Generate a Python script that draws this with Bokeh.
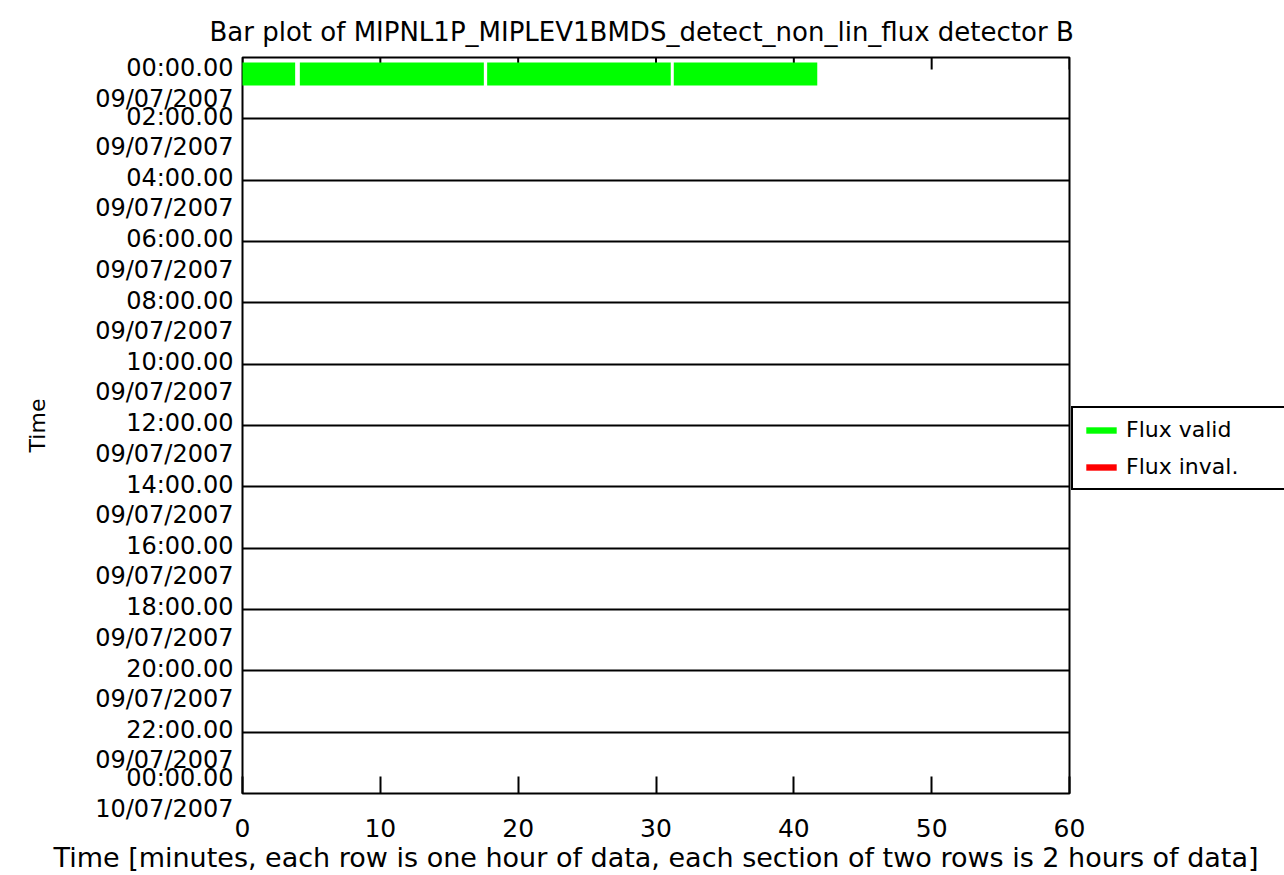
from bokeh.plotting import figure
from bokeh.models import (Range1d, FixedTicker, Legend, LegendItem, ColumnDataSource)
from bokeh.embed import file_html
from bokeh.resources import INLINE

# ---------------- data ----------------
title_text = "Bar plot of MIPNL1P_MIPLEV1BMDS_detect_non_lin_flux detector B"
x_label = "Time [minutes, each row is one hour of data, each section of two rows is 2 hours of data]"
y_label = "Time"

# valid flux segments: hour row, start minute, end minute
valid_row = [0, 0, 0, 0]
valid_start = [0.0, 4.16, 17.75, 31.29]
valid_end = [3.82, 17.51, 31.07, 41.70]

# invalid flux segments (none in this period)
inval_row = []
inval_start = []
inval_end = []

y_tick_times = ["00:00.00", "02:00.00", "04:00.00", "06:00.00", "08:00.00", "10:00.00",
                "12:00.00", "14:00.00", "16:00.00", "18:00.00", "20:00.00", "22:00.00",
                "00:00.00"]
y_tick_dates = ["09/07/2007"] * 12 + ["10/07/2007"]
x_ticks = [0, 10, 20, 30, 40, 50, 60]

FONT = "DejaVu Sans"
HOURS = 24
PX_PER_HOUR = 736 / HOURS

# ---------------- figure ----------------
p = figure(output_backend="svg", toolbar_location=None,
           frame_width=827, frame_height=736,
           min_border_left=242, min_border_top=57, min_border_bottom=82,
           min_border_right=213,
           x_range=Range1d(0, 60), y_range=Range1d(HOURS, 0))

p.title.text = title_text
p.title.text_font = FONT
p.title.text_font_size = "26px"
p.title.text_font_style = "normal"
p.title.text_color = "black"
p.title.align = "left"
p.title.offset = -33
p.title.standoff = 22

p.outline_line_color = "black"
p.outline_line_width = 2
p.outline_line_alpha = 1
p.background_fill_color = "white"
p.border_fill_color = "white"

# grid: horizontal section lines every 2 hours
p.xgrid.visible = False
p.ygrid.ticker = FixedTicker(ticks=list(range(0, HOURS + 1, 2)))
p.ygrid.grid_line_color = "black"
p.ygrid.grid_line_width = 2
p.ygrid.grid_line_alpha = 1

# x axis (bottom)
xa = p.xaxis[0]
xa.ticker = FixedTicker(ticks=x_ticks)
xa.major_tick_in = 17
xa.major_tick_out = 0
xa.minor_tick_line_color = None
xa.axis_line_color = None
xa.major_tick_line_color = "black"
xa.major_tick_line_width = 2
xa.major_label_text_font = FONT
xa.major_label_text_font_size = "25px"
xa.major_label_text_color = "black"
xa.major_label_standoff = 25
xa.axis_label = x_label
xa.axis_label_text_font = FONT
xa.axis_label_text_font_size = "27px"
xa.axis_label_text_font_style = "normal"
xa.axis_label_text_color = "black"
xa.axis_label_standoff = 2

# top tick marks (inward, from the x tick list)
tick_len = 12 / PX_PER_HOUR
p.segment(x0=x_ticks, y0=[0] * len(x_ticks), x1=x_ticks,
          y1=[tick_len] * len(x_ticks), line_color="black", line_width=2)

# y axis: two-line labels; the first line sits on each section line,
# the first and last labels are kept inside the frame
half_line = 13 / PX_PER_HOUR
n_lab = len(y_tick_times)
y_tick_pos = []
for i in range(n_lab):
    if i == 0:
        y_tick_pos.append(0.85)
    elif i == n_lab - 1:
        y_tick_pos.append(float(HOURS))
    else:
        y_tick_pos.append(2 * i + half_line)
ya = p.yaxis[0]
ya.ticker = FixedTicker(ticks=y_tick_pos)
ya.major_label_overrides = {pos: f"{t}\n{d}"
                            for pos, t, d in zip(y_tick_pos, y_tick_times, y_tick_dates)}
ya.major_tick_line_color = None
ya.minor_tick_line_color = None
ya.axis_line_color = None
ya.major_label_text_font = FONT
ya.major_label_text_font_size = "24px"
ya.major_label_text_line_height = 1.08
ya.major_label_text_color = "black"
ya.major_label_standoff = 3
ya.axis_label = y_label
ya.axis_label_text_font = FONT
ya.axis_label_text_font_size = "22px"
ya.axis_label_text_font_style = "normal"
ya.axis_label_text_color = "black"
ya.axis_label_standoff = 42

# ---------------- bars ----------------
pad_top, pad_bot = 0.16, 0.91
src_v = ColumnDataSource(dict(left=valid_start, right=valid_end,
                              top=[r + pad_top for r in valid_row],
                              bottom=[r + pad_bot for r in valid_row]))
src_i = ColumnDataSource(dict(left=inval_start, right=inval_end,
                              top=[r + pad_top for r in inval_row],
                              bottom=[r + pad_bot for r in inval_row]))
rv = p.quad(left="left", right="right", top="top", bottom="bottom", source=src_v,
            fill_color="#00ff00", line_color=None, level="annotation")
ri = p.quad(left="left", right="right", top="top", bottom="bottom", source=src_i,
            fill_color="#ff0000", line_color=None, level="annotation")
# hidden swatch so the red legend entry is drawn even when there are no invalid segments
ri_swatch = p.quad(left="left", right="right", top="top", bottom="bottom", source=src_v,
                   fill_color="#ff0000", line_color=None, visible=False)

legend = Legend(items=[LegendItem(label="Flux valid", renderers=[rv]),
                       LegendItem(label="Flux inval.", renderers=[ri_swatch, ri])],
                location=(2, 303), margin=0, padding=9, spacing=12,
                glyph_width=38, glyph_height=8, label_height=24, label_width=150,
                label_text_font=FONT, label_text_font_size="22px",
                label_text_color="black",
                border_line_color="black", border_line_width=2, border_line_alpha=1,
                background_fill_color="white", background_fill_alpha=1,
                label_standoff=6)
p.add_layout(legend, "right")

open("out.html", "w").write(file_html(p, INLINE))
